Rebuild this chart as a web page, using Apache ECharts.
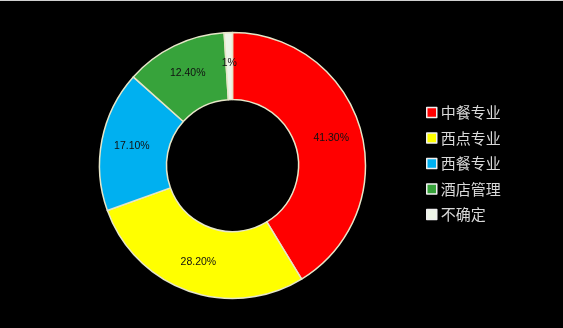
<!DOCTYPE html>
<html><head><meta charset="utf-8">
<script src="https://cdn.jsdelivr.net/npm/echarts@6/dist/echarts.min.js"></script>
<style>html,body{margin:0;padding:0;background:#000;}#c{width:563px;height:328px;box-sizing:border-box;border-top:1px solid #d0d0d0;}</style>
</head><body><div id="c"></div>
<script>
const categories = ['中餐专业','西点专业','西餐专业','酒店管理','不确定'];
const values = [41.3, 28.2, 17.1, 12.4, 1];
const labels = ['41.30%','28.20%','17.10%','12.40%','1%'];
const colors = ['#ff0000','#ffff00','#00b0f0','#37a33b','#eef5e8'];

const chart = echarts.init(document.getElementById('c'), null, {renderer:'canvas'});
chart.setOption({
  backgroundColor:'#000',
  animation:false,
  legend:{
    orient:'vertical', left:421, top:99, itemGap:10.5,
    icon:'rect', itemWidth:10, itemHeight:10,
    itemStyle:{borderColor:'#f0f0f0', borderWidth:1.5},
    textStyle:{color:'#d9d9d9', fontSize:15, fontFamily:'"Noto Sans CJK SC", sans-serif', padding:[0,0,0,-1]},
    data:categories
  },
  series:[{
    type:'pie', center:[232.5,164.5], radius:[66,133], startAngle:90, clockwise:true,
    avoidLabelOverlap:false,
    itemStyle:{borderColor:'#e6e6c8', borderWidth:1.5},
    label:{show:true, position:'inside', color:'#111', fontSize:10.5, fontFamily:'"Liberation Sans", sans-serif',
      formatter:p=>labels[p.dataIndex]},
    labelLine:{show:false},
    data:categories.map((n,i)=>({name:n, value:values[i], itemStyle:{color:colors[i]}}))
  }]
});
</script></body></html>
